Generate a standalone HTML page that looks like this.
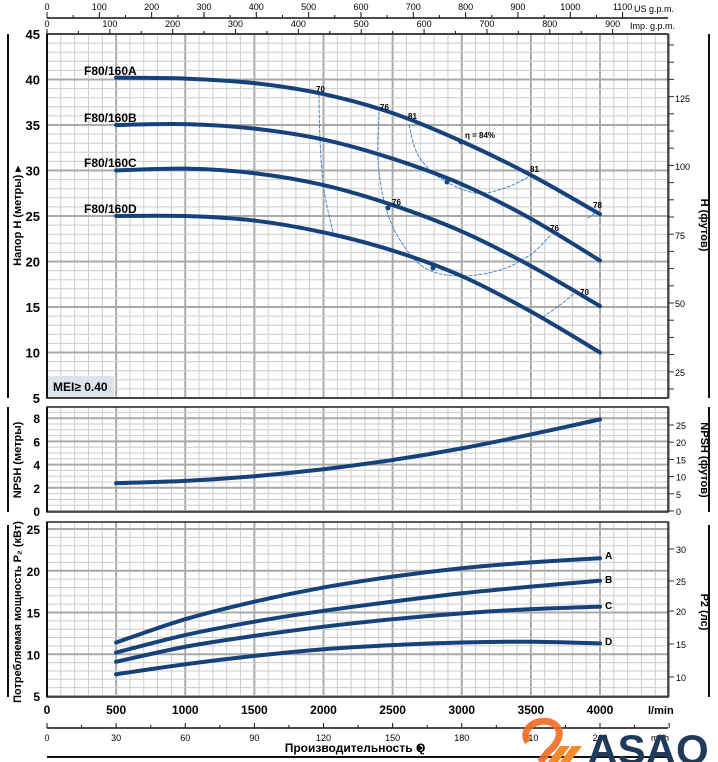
<!DOCTYPE html>
<html><head><meta charset="utf-8"><style>
html,body{margin:0;padding:0;background:#fff;}
svg{display:block;font-family:"Liberation Sans Narrow","Liberation Sans",sans-serif;}
</style></head><body>
<svg id="s" width="718" height="762" viewBox="0 0 718 762" xmlns="http://www.w3.org/2000/svg"></svg>
<script>
const S=document.getElementById('s');let h='';
const X=q=>47+0.13825*q;
const yH=v=>34+(45-v)*9.1, yN=v=>511-11.6*v, yP=v=>696-(v-5)*8.35;
function line(x1,y1,x2,y2,c,w,extra){h+=`<line x1="${x1}" y1="${y1}" x2="${x2}" y2="${y2}" stroke="${c}" stroke-width="${w}" ${extra||''}/>`;}
function txt(x,y,t,sz,anc,extra){h+=`<text x="${x}" y="${y}" font-size="${sz}" text-anchor="${anc||'start'}" ${extra||''}>${t}</text>`;}
function grid(top,bot,hy){
  for(let i=0;i<=45;i++){const x=47+i*13.825;const maj=i%5==0;line(x,top,x,bot,maj?'#aaaaaa':'#cccccc',maj?2:1);}
  hy.forEach(([y,m])=>line(47,y,668,y,m?'#aaaaaa':'#cccccc',m?2:1));
  h+=`<rect x="47" y="${top}" width="621" height="${bot-top}" fill="none" stroke="#222" stroke-width="1.5"/>`;
  line(47,top,47,bot,'#111',2);
}
let hy=[];for(let v=5;v<=45;v++)hy.push([yH(v),v%5==0]);grid(34,398,hy);
hy=[];for(let v=0;v<=9;v+=0.5)hy.push([yN(v),v%2==0]);grid(407,512,hy);
hy=[];for(let v=5;v<=25.8;v+=1)hy.push([yP(v),v%5==0]);grid(522,697,hy);
for(let v=5;v<=45;v+=5)txt(40,yH(v)+5,v,13,'end','font-weight="bold"');
for(let v=0;v<=8;v+=2)txt(40,yN(v)+5,v,12,'end','font-weight="bold"');
for(let v=5;v<=25;v+=5)txt(40,yP(v)+5,v,12,'end','font-weight="bold"');
[[125,98],[100,166],[75,235],[50,303],[25,372]].forEach(([f,y])=>{txt(675,y+4,f,9,'start');});
for(let y=45;y<398;y+=17.2)line(668,y,674,y,'#333',1);
for(let f=0;f<=25;f+=5){const y=511-f*3.44;line(668,y,674,y,'#333',1);txt(676,y+4,f,9);}
[[30,549],[25,581],[20,611],[15,644],[10,677]].forEach(([f,y])=>{line(668,y,674,y,'#333',1);txt(676,y+4,f,9);});
line(47,18,668,18,'#111',1.5);
for(let g=0;g<=1100;g+=50){const x=X(g*3.785);line(x,18,x,g%100==0?12:15,'#111',1);if(g%100==0)txt(x,10,g,9,'middle');}
txt(634,12,'US g.p.m.',9);
for(let g=0;g<=900;g+=50){const x=X(g*4.546);line(x,34,x,g%100==0?29:31,'#111',1);if(g%100==0)txt(x,27,g,9,'middle');}
txt(630,29,'Imp. g.p.m.',9);
for(let q=0;q<=4000;q+=500)txt(X(q),714,q,12,'middle','font-weight="bold"');
txt(648,714,'l/min',11,'start','font-weight="bold"');
line(47,728,668,728,'#111',1.5);
for(let m=0;m<=270;m+=15){const x=X(m*1000/60);line(x,728,x,m%30==0?723:725,'#111',1);if(m%30==0&&m<=240)txt(x,741,m,9,'middle');}
txt(660,741,'m³/h',9,'middle');
txt(355,752,'Производительность Q',12,'middle','font-weight="bold"');
h+=`<polygon points="418,744 423,748 418,752" fill="#111"/>`;
line(47,757,670,757,'#111',2);
[[34,398],[407,512],[525,697]].forEach(([a,b])=>{line(8,a,8,b,'#111',2);line(709,a,709,b,'#111',2);});
txt(0,0,'Напор H (метры) ▸',11,'middle','font-weight="bold" transform="translate(21,216) rotate(-90)"');
txt(0,0,'NPSH (метры)',11,'middle','font-weight="bold" transform="translate(21,460) rotate(-90)"');
txt(0,0,'Потребляемая мощность P₂ (кВт)',11,'middle','font-weight="bold" transform="translate(21,612) rotate(-90)"');
txt(0,0,'H (футов)',11,'middle','font-weight="bold" transform="translate(701,225) rotate(90)"');
txt(0,0,'NPSH (футов)',11,'middle','font-weight="bold" transform="translate(701,460) rotate(90)"');
txt(0,0,'P2 (лс)',11,'middle','font-weight="bold" transform="translate(701,612) rotate(90)"');
function curve(pts,c,w,dash){let d=`M${pts[0][0]},${pts[0][1]}`;for(let i=0;i<pts.length-1;i++){const p0=pts[i-1]||pts[i],p1=pts[i],p2=pts[i+1],p3=pts[i+2]||p2;
d+=` C${p1[0]+(p2[0]-p0[0])/6},${p1[1]+(p2[1]-p0[1])/6} ${p2[0]-(p3[0]-p1[0])/6},${p2[1]-(p3[1]-p1[1])/6} ${p2[0]},${p2[1]}`;}
h+=`<path d="${d}" fill="none" stroke="${c}" stroke-width="${w}" ${dash?'stroke-dasharray="3,2"':''} stroke-linecap="round"/>`;}
const Q=[500,1000,1500,2000,2500,3000,3500,4000];
const mk=(vals,f)=>vals.map((v,i)=>[X(Q[i]),f(v)]);
const BL='#15427a';
const DC='#4a86c0';
curve([[319,95],[320,140],[324,190],[333,232]],DC,1,1);
curve([[379,112],[378,160],[385,205],[400,240],[425,268],[460,276],[500,270],[530,255],[550,236]],DC,1,1);
curve([[409,125],[418,155],[440,178],[475,193],[505,188],[530,176]],DC,1,1);
curve([[543,317],[560,305],[576,292]],DC,1,1);
curve([[588,218],[597,212]],DC,1,1);
curve(mk([40.2,40.1,39.6,38.4,36.3,33.2,29.5,25.2],yH),BL,4);
curve(mk([35,35.1,34.6,33.4,31.3,28.5,24.7,20.1],yH),BL,4);
curve(mk([30,30.2,29.7,28.4,26.2,23.3,19.5,15.1],yH),BL,4);
curve(mk([25,25,24.5,23.2,21.2,18.4,14.5,10],yH),BL,4);
[[461,142],[447,182],[388,208],[433,268]].forEach(([x,y])=>h+=`<circle cx="${x}" cy="${y}" r="2.5" fill="${BL}"/>`);
[['70',316,92],['76',380,110],['81',408,119],['η = 84%',465,138],['81',530,172],['78',593,208],['76',392,205],['76',550,231],['70',580,295]].forEach(([t,x,y])=>txt(x,y,t,8,'start','font-weight="bold"'));
[['F80/160A',84,75],['F80/160B',84,122],['F80/160C',84,167],['F80/160D',84,213]].forEach(([t,x,y])=>txt(x,y,t,12,'start','font-weight="bold"'));
h+=`<rect x="48" y="376" width="66" height="21" fill="#dde3ea"/>`;txt(53,391,'MEI≥ 0.40',12,'start','font-weight="bold"');
curve(mk([2.4,2.6,3.0,3.6,4.4,5.4,6.6,7.9],yN),BL,4);
curve(mk([11.4,14.2,16.3,18.0,19.3,20.3,21.0,21.5],yP),BL,4);
curve(mk([10.2,12.3,13.9,15.2,16.3,17.3,18.1,18.8],yP),BL,4);
curve(mk([9.1,10.9,12.2,13.3,14.2,14.9,15.4,15.7],yP),BL,4);
curve(mk([7.6,8.8,9.8,10.6,11.1,11.4,11.5,11.3],yP),BL,4);
[['A',559],['B',583],['C',609],['D',645]].forEach(([t,y])=>txt(605,y,t,10,'start','font-weight="bold"'));
h+=`<path d="M528,742 C520,730 535,718 550,722 C565,728 560,742 548,752 L540,762" fill="none" stroke="#f26a21" stroke-width="7" opacity="0.9"/>`;
h+=`<polygon points="548,762 560,746 570,746 558,762" fill="#f58a2a"/><polygon points="560,762 572,746 582,746 570,762" fill="#f58a2a"/>`;
txt(648,764,'ASAO',42,'middle','font-weight="bold" fill="#1f3a5a" font-family="Liberation Sans,sans-serif"');
S.innerHTML=h;
</script>
</body></html>
